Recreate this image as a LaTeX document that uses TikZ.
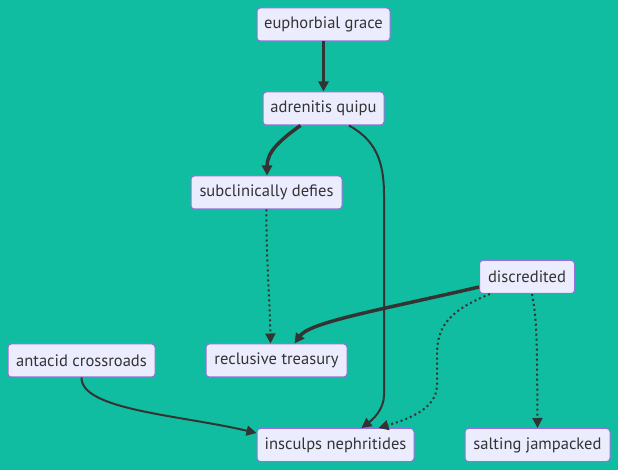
\documentclass[tikz,border=0pt]{standalone}
\usepackage{fontspec}
\setmainfont{PT Sans}
\usetikzlibrary{arrows.meta,calc}
\definecolor{bg}{HTML}{10BDA0}
\definecolor{nodefill}{HTML}{ECECFF}
\definecolor{nodeborder}{HTML}{9370DB}
\definecolor{edgecol}{HTML}{333333}
\begin{document}
\begin{tikzpicture}[x=0.75pt,y=-0.75pt,
 box/.style={draw=nodeborder, fill=nodefill, rounded corners=2.5pt, line width=0.75pt, minimum height=24.75pt, inner sep=0pt, text=edgecol, font=\fontsize{12.4}{15}\selectfont},
 tip/.style={-{Triangle[length=7.5pt,width=7.5pt]}},
 thickedge/.style={draw=edgecol, line width=2.6pt, tip},
 normedge/.style={draw=edgecol, line width=1.5pt, tip},
 dotedge/.style={draw=edgecol, line width=1.5pt, dash pattern=on 1.5pt off 2.25pt, tip}]
\fill[bg] (0,0) rectangle (618,470);
\useasboundingbox (0,0) rectangle (618,470);
\node[box, minimum width=99.75pt] (eg) at (323.5,24.5) {euphorbial grace};
\node[box, minimum width=90.75pt] (aq) at (323.5,108.5) {adrenitis quipu};
\node[box, minimum width=113.25pt] (sd) at (266.5,192.5) {subclinically defies};
\node[box, minimum width=71.25pt] (di) at (527,277) {discredited};
\node[box, minimum width=105.75pt] (rt) at (276.5,360.5) {reclusive treasury};
\node[box, minimum width=110.25pt] (ac) at (81.5,360.5) {antacid crossroads};
\node[box, minimum width=117.75pt] (in) at (335.5,445) {insculps nephritides};
\node[box, minimum width=108.75pt] (sj) at (537.5,445) {salting jampacked};
\draw[thickedge] (eg) -- (aq);
\draw[thickedge] ($(aq.south)+(-23,0)$) .. controls (280,140) and (267,152) .. ($(sd.north)+(0.5,0)$);
\draw[normedge] ($(aq.south)+(25.5,0)$) .. controls (375,140) and (384,160) .. (384,195) -- (384,395) .. controls (384,410) and (372,420) .. ($(in.north)+(26,0)$);
\draw[dotedge] (sd.south) .. controls (266,260) and (270,300) .. ($(rt.north)+(-6,0)$);
\draw[thickedge] ($(di.west)+(0,10)$) .. controls (380,310) and (310,322) .. ($(rt.north)+(18,0)$);
\draw[dotedge] ($(di.south)+(-37,0)$) .. controls (445,312) and (437,330) .. (437,355) -- (437,385) .. controls (437,410) and (405,420) .. ($(in.north)+(43,0)$);
\draw[dotedge] ($(di.south)+(5,0)$) .. controls (537,320) and (537,340) .. (sj.north);
\draw[normedge] (ac.south) .. controls (81,410) and (180,415) .. ($(in.west)+(0,-12)$);
\end{tikzpicture}
\end{document}
